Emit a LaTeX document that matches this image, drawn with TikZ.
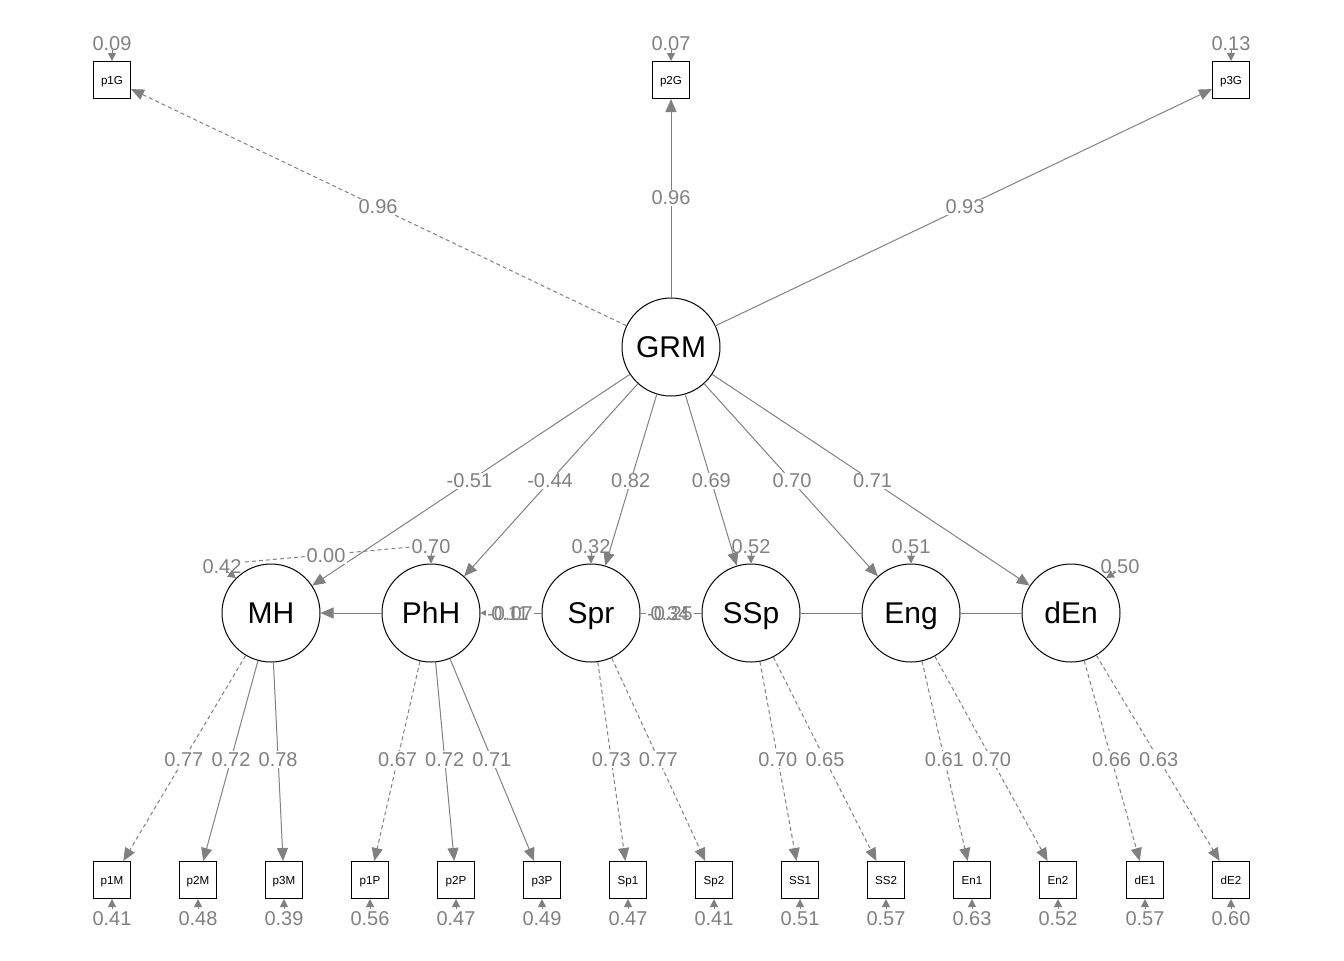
\documentclass[tikz,border=0pt]{standalone}
\usepackage{fontspec}
\setmainfont{Liberation Sans}
\usetikzlibrary{arrows.meta,calc}
\definecolor{eg}{HTML}{808080}
\begin{document}
\begin{tikzpicture}[x=0.5pt,y=-0.5pt,
  lat/.style={circle,draw=black,line width=0.5pt,minimum size=49pt,inner sep=0pt,text height=10.7pt,text depth=0pt,font=\fontsize{15}{15}\selectfont},
  man/.style={rectangle,draw=black,line width=0.5pt,fill=white,minimum size=18.5pt,inner sep=0pt,text height=4pt,text depth=0pt,font=\fontsize{5.8}{6}\selectfont},
  ln/.style={draw=eg,line width=0.5pt,-{Triangle[length=6.5pt,width=5.5pt]}},
  dsh/.style={ln,dash pattern=on 2pt off 1.5pt},
  plain/.style={draw=eg,line width=0.5pt},
  elab/.style={fill=white,inner sep=0.6pt,text=eg,font=\fontsize{10}{10}\selectfont},
  rlab/.style={inner sep=0pt,text=eg,font=\fontsize{10}{10}\selectfont},
  rarr/.style={draw=eg,line width=0.5pt,-{Triangle[length=4pt,width=4pt]}}]
\useasboundingbox (0,0) rectangle (1344,960);
% latent nodes
\node[lat] (GRM) at (671,347) {GRM};
\node[lat] (MH)  at (271,613) {MH};
\node[lat] (PhH) at (431,613) {PhH};
\node[lat] (Spr) at (591,613) {Spr};
\node[lat] (SSp) at (751,613) {SSp};
\node[lat] (Eng) at (911,613) {Eng};
\node[lat] (dEn) at (1071,613) {dEn};
% top manifest
\node[man] (p1G) at (112,80) {p1G};
\node[man] (p2G) at (671,80) {p2G};
\node[man] (p3G) at (1231,80) {p3G};
% bottom manifest
\foreach \n/\x in {p1M/112,p2M/198,p3M/284,p1P/370,p2P/456,p3P/542,Sp1/628,Sp2/714,SS1/800,SS2/886,En1/972,En2/1058,dE1/1145,dE2/1231}
  \node[man] (\n) at (\x,880) {\n};
% top loadings
\draw[dsh] (GRM) -- (p1G);
\draw[ln] (GRM) -- (p2G);
\draw[ln] (GRM) -- (p3G);
\node[elab] at ($(GRM)!0.524!(p1G)$) {0.96};
\node[elab] at ($(GRM)!0.558!(p2G)$) {0.96};
\node[elab] at ($(GRM)!0.525!(p3G)$) {0.93};
% structural paths
\foreach \t in {MH,PhH,Spr,SSp,Eng,dEn}
  \draw[ln] (GRM) -- (\t);
\foreach \t/\l in {MH/-0.51,PhH/-0.44,Spr/0.82,SSp/0.69,Eng/0.70,dEn/0.71}
  \node[elab] at ($(GRM)!0.504!(\t)$) {\l};
% horizontal relations
\draw[ln] (PhH) -- (MH);
\draw[plain,-{Triangle[length=3pt,width=3pt]}] (Spr) -- (PhH);
\draw[plain] (Spr) -- (SSp);
\draw[plain] (SSp) -- (Eng);
\draw[plain] (Eng) -- (dEn);
\node[elab] at (510,614) {-0.07};
\node[rlab] at (510,614) {0.11};
\node[elab] at (670,614) {-0.25};
\node[rlab] at (670,614) {0.34};
% bottom loadings
\foreach \f/\t/\s in {MH/p1M/dsh,MH/p2M/ln,MH/p3M/ln,PhH/p1P/dsh,PhH/p2P/ln,PhH/p3P/ln,Spr/Sp1/dsh,Spr/Sp2/dsh,SSp/SS1/dsh,SSp/SS2/dsh,Eng/En1/dsh,Eng/En2/dsh,dEn/dE1/dsh,dEn/dE2/dsh}
  \draw[\s] (\f) -- (\t);
\foreach \f/\t/\l in {MH/p1M/0.77,MH/p2M/0.72,MH/p3M/0.78,PhH/p1P/0.67,PhH/p2P/0.72,PhH/p3P/0.71,Spr/Sp1/0.73,Spr/Sp2/0.77,SSp/SS1/0.70,SSp/SS2/0.65,Eng/En1/0.61,Eng/En2/0.70,dEn/dE1/0.66,dEn/dE2/0.63}
  \node[elab] at ($(\f)!0.548!(\t)$) {\l};
% residuals of manifest variables
\foreach \n/\r in {p1G/0.09,p2G/0.07,p3G/0.13}{
  \node[rlab] at ($(\n.north)+(0,-17)$) {\r};
  \draw[rarr] ($(\n.north)+(0,-11)$) -- (\n.north);
}
\foreach \n/\r in {p1M/0.41,p2M/0.48,p3M/0.39,p1P/0.56,p2P/0.47,p3P/0.49,Sp1/0.47,Sp2/0.41,SS1/0.51,SS2/0.57,En1/0.63,En2/0.52,dE1/0.57,dE2/0.60}{
  \node[rlab] at ($(\n.south)+(0,20)$) {\r};
  \draw[rarr] ($(\n.south)+(0,10)$) -- (\n.south);
}
% residuals of latent variables
\coordinate (c1) at (245,562);
\coordinate (c2) at (411,547);
\draw[plain,dash pattern=on 2pt off 1.5pt] (c1) -- (c2);
\node[elab] at (326,556) {0.00};
\node[rlab] at (222,567) {0.42};
\draw[rarr] (226,571) -- (MH.135);
\foreach \n/\r in {PhH/0.70,Spr/0.32,SSp/0.52,Eng/0.51}{
  \node[rlab] at ($(\n.north)+(0,-17)$) {\r};
  \draw[rarr] ($(\n.north)+(0,-11)$) -- (\n.north);
}
\node[rlab] at (1120,567) {0.50};
\draw[rarr] (1116,572) -- (dEn.45);
\end{tikzpicture}
\end{document}
